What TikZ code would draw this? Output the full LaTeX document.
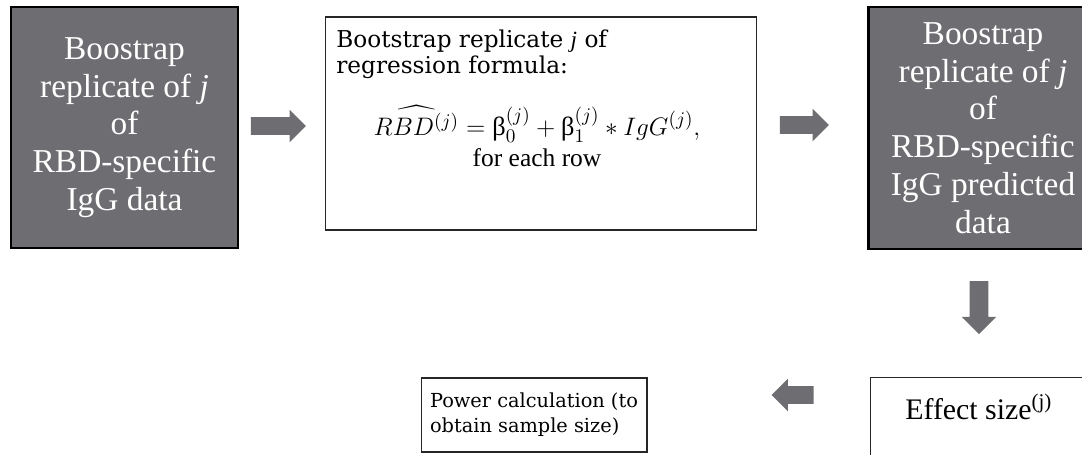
\documentclass[tikz,border=0pt]{standalone}
\usepackage{amsmath}
\usepackage{fontspec}
\newfontfamily\timesfont{Liberation Serif}
\newfontfamily\schoolfont{DejaVu Serif}
\usepackage{xcolor}
\definecolor{boxgray}{RGB}{110,110,114}
\usepackage{tikz}
\usetikzlibrary{shapes.arrows,positioning}

\begin{document}
\begin{tikzpicture}[x=0.02cm, y=-0.02cm,
  darkbox/.style={draw=black, line width=1.3pt, fill=boxgray, text=white, align=center, inner sep=0pt, font=\timesfont\fontsize{19}{21.5}\selectfont},
  whitebox/.style={draw=black!85, line width=0.6pt, fill=white, inner sep=0pt},
  blockarrow/.style={single arrow, draw=none, fill=boxgray, inner sep=0.17cm, minimum height=1.1cm, single arrow head extend=0.15cm, single arrow head indent=0pt}
]
\useasboundingbox (0,0) rectangle (1082,454);

% top row
\node[darkbox, minimum width=4.54cm, minimum height=4.82cm] (rawdata) at (124.5,127.5) {
  Boostrap\\
  replicate of \textit{j}\\
  of\\
  RBD-specific\\
  IgG data
};

\node[whitebox, minimum width=8.64cm, minimum height=4.26cm] (formula) at (541,123.5) {};
\node[anchor=north west, align=left, inner sep=0pt, font=\schoolfont\fontsize{13.2}{14.4}\selectfont] (formtitle) at (336,30) {
  Bootstrap replicate {\timesfont\itshape j} of\\
  regression formula:
};
\node[inner sep=0pt, font=\fontsize{15}{18}\selectfont] (formeq) at (537,124) {
  $\widehat{RBD^{(j)}} = \text{\timesfont β}_0^{(j)} + \text{\timesfont β}_1^{(j)} * IgG^{(j)},$
};
\node[below=3pt of formeq, inner sep=0pt, font=\timesfont\fontsize{14.5}{17}\selectfont] (formrow) {for each row};

\node[darkbox, minimum width=4.58cm, minimum height=4.84cm] (predicted) at (983,128) {
  Boostrap\\
  replicate of \textit{j}\\
  of\\
  RBD-specific\\
  IgG predicted\\
  data
};

% bottom row
\node[whitebox, minimum width=4.62cm, minimum height=1.9cm] (effect) at (986,425) {};
\node[anchor=north west, inner sep=0pt, font=\timesfont\fontsize{17}{20}\selectfont] (efftext) at (905,394) {Effect size\textsuperscript{(j)}};

\node[whitebox, minimum width=4.52cm, minimum height=1.48cm, align=left, font=\schoolfont\fontsize{11}{14.2}\selectfont] (power) at (534,415) {
  Power calculation (to\\
  obtain sample size)
};

% block arrows
\node[blockarrow] (arrowa) at (274,126) {};
\node[blockarrow, minimum height=0.98cm] (arrowb) at (800,125) {};
\node[blockarrow, shape border rotate=270, minimum height=1.06cm, inner sep=0.18cm, single arrow head extend=0.16cm] (arrowc) at (979,303) {};
\node[blockarrow, shape border rotate=180, minimum height=0.84cm] (arrowd) at (797,395) {};
\end{tikzpicture}
\end{document}
